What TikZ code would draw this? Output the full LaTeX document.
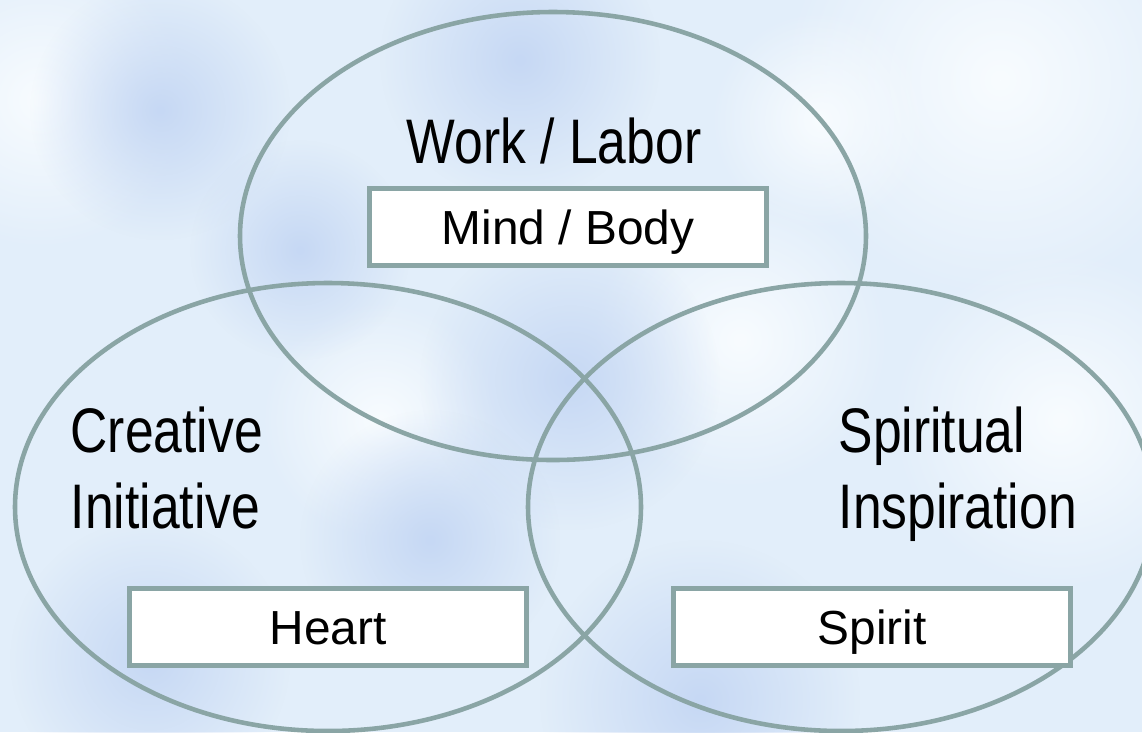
\documentclass[tikz,border=0pt]{standalone}
\usepackage{fontspec}
\usetikzlibrary{fadings}
\setmainfont{Liberation Sans}
\newfontfamily\narrowfont[FakeStretch=0.82]{Liberation Sans}

\definecolor{ringgray}{HTML}{8AA5A5}
\definecolor{skybase}{HTML}{E2EEFA}
\definecolor{skywhite}{HTML}{F8FCFF}
\definecolor{skyblue}{HTML}{C6D8F4}

\tikzfading[name=softspot, inner color=transparent!0, outer color=transparent!100]

\begin{document}
\begin{tikzpicture}
	[x = 0.01cm, y = -0.01cm,
	ring/.style={draw=ringgray, line width=1.3pt},
	tag/.style={draw=ringgray, line width=1.3pt, fill=white, minimum width=3.97cm, minimum height=0.77cm, inner sep=0pt, text height=12.74pt, text depth=3pt, font=\fontsize{13.6}{16}\selectfont},
	title/.style={inner sep=0pt, align=left, font=\narrowfont\fontsize{17.9}{21.6}\selectfont}]
	
	% Canvas
	\useasboundingbox (0, 0) rectangle (1142, 732);
	\clip (0, 0) rectangle (1142, 732);
	\fill[skybase] (0, 0) rectangle (1142, 732);
	
	% Soft sky patches
	\foreach \cx/\cy/\r in {40/100/150, 1000/80/220, 1060/420/170, 740/340/150, 380/420/120, 820/120/110}
		\fill[skywhite, path fading=softspot] (\cx, \cy) circle[radius=\r];
	\foreach \cx/\cy/\r in {160/110/130, 520/60/140, 570/380/150, 150/660/140, 700/700/160, 430/540/130, 300/250/110}
		\fill[skyblue, path fading=softspot] (\cx, \cy) circle[radius=\r];
	
	% Draw rings
	\draw[ring] (553, 236) ellipse[x radius=313, y radius=224];
	\draw[ring] (328, 507) ellipse[x radius=313, y radius=224];
	\draw[ring] (841, 507) ellipse[x radius=313, y radius=224];
	
	% Draw boxes
	\node[tag] (mind) at (568, 227) {Mind / Body};
	\node[tag] (heart) at (328, 627) {Heart};
	\node[tag] (spirit) at (872, 627) {Spirit};
	
	% Draw titles
	\node[title, anchor=base] (work) at (554, 163) {Work / Labor};
	\node[title, anchor=base west] (creative) at (70, 528) {Creative\\Initiative};
	\node[title, anchor=base west] (spiritual) at (838, 528) {Spiritual\\Inspiration};
	
\end{tikzpicture}
\end{document}
